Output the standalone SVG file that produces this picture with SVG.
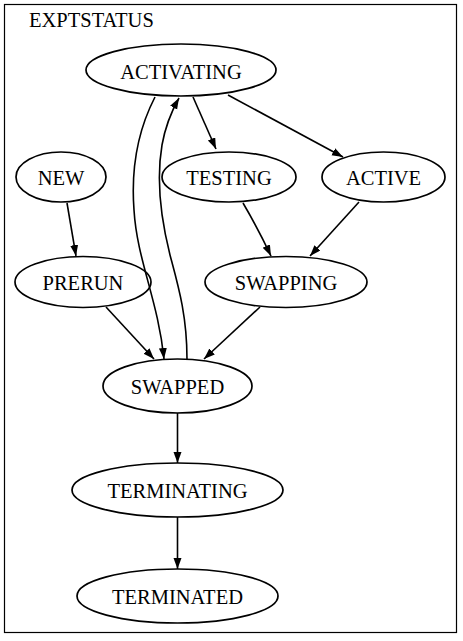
<svg xmlns="http://www.w3.org/2000/svg" width="463" height="641" viewBox="0 0 463 641">
<defs>
<style>
.n ellipse{fill:none;stroke:#000;stroke-width:1.7}
text{font-family:"Liberation Serif","Times New Roman",serif;font-size:20.5px;fill:#000}
.n text{text-anchor:middle}
.e path{fill:none;stroke:#000;stroke-width:1.6;marker-end:url(#ah)}
</style>
<marker id="ah" markerUnits="userSpaceOnUse" markerWidth="12" markerHeight="9" refX="11" refY="4" orient="auto">
<path d="M0,0 L11,4 L0,8 z" fill="#000"/>
</marker>
</defs>
<rect x="4.5" y="4.5" width="452" height="628" fill="#fff" stroke="#000" stroke-width="1.2"/>
<text x="29" y="27" font-size="19.5">EXPTSTATUS</text>
<g class="e" id="edges">
<path d="M155,97 C138,130 131,170 134,210 C137,260 158,300 164,359"/>
<path d="M187,359 C187,315 178,285 170,255 C160,215 156,180 162,145 C165,128 170,114 179,98"/>
<path d="M193,97 C200,113 208,131 216,149"/>
<path d="M228,95 L343,157"/>
<path d="M67,203 L76,256"/>
<path d="M243,203 C253,220 262,237 271,256"/>
<path d="M359,202 L310,256"/>
<path d="M106,307 L154,359"/>
<path d="M260,307 L204,359"/>
<path d="M177.5,413 L177.5,463"/>
<path d="M177.5,517 L177.5,569"/>
</g>
<g class="n" id="ACTIVATING"><ellipse cx="181" cy="70" rx="95" ry="26"/><text x="181" y="79">ACTIVATING</text></g>
<g class="n" id="NEW"><ellipse cx="61" cy="177" rx="45" ry="25"/><text x="61" y="185">NEW</text></g>
<g class="n" id="TESTING"><ellipse cx="229" cy="177" rx="67" ry="25"/><text x="229" y="185">TESTING</text></g>
<g class="n" id="ACTIVE"><ellipse cx="383.5" cy="177" rx="61.5" ry="25"/><text x="383.5" y="185">ACTIVE</text></g>
<g class="n" id="PRERUN"><ellipse cx="83" cy="282" rx="68" ry="25.5"/><text x="83" y="290">PRERUN</text></g>
<g class="n" id="SWAPPING"><ellipse cx="286" cy="282" rx="81" ry="25.5"/><text x="286" y="290">SWAPPING</text></g>
<g class="n" id="SWAPPED"><ellipse cx="177.5" cy="386" rx="74.5" ry="27"/><text x="177.5" y="394">SWAPPED</text></g>
<g class="n" id="TERMINATING"><ellipse cx="177.5" cy="490" rx="105.5" ry="27"/><text x="177.5" y="498">TERMINATING</text></g>
<g class="n" id="TERMINATED"><ellipse cx="177.5" cy="596" rx="100.5" ry="27"/><text x="177.5" y="604">TERMINATED</text></g>
</svg>
